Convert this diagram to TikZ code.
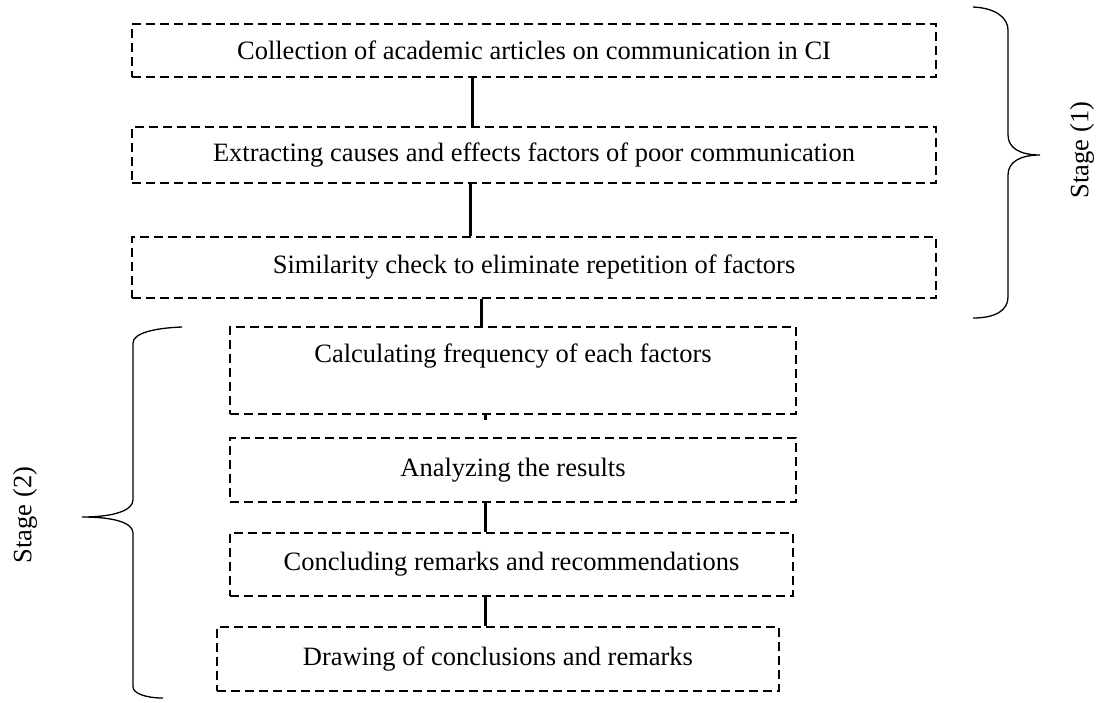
\documentclass[tikz,border=0pt]{standalone}
\usepackage{fontspec}
\setmainfont{Liberation Serif}
\begin{document}
\begin{tikzpicture}[x=1pt,y=-1pt,
  box/.style={draw=black, line width=1.8pt, dash pattern=on 9pt off 5pt, inner sep=0pt,
    font=\fontsize{26.5}{30}\selectfont, anchor=center},
  conn/.style={draw=black, line width=3pt},
  brace/.style={draw=black, line width=1.3pt},
  stagetxt/.style={font=\fontsize{26.5}{30}\selectfont, rotate=90}]
\useasboundingbox (0,0) rectangle (1099,702);
\node[box, minimum width=804pt, minimum height=53pt] (b1) at (534,50.5) {Collection of academic articles on communication in CI};
\node[box, minimum width=804pt, minimum height=56pt] (b2) at (534,155) {Extracting causes and effects factors of poor communication};
\node[box, minimum width=804pt, minimum height=61pt] (b3) at (534,267.5) {Similarity check to eliminate repetition of factors};
\node[box, minimum width=566pt, minimum height=87pt, text height=14pt, text depth=31pt] (b4) at (513,370.5) {Calculating frequency of each factors};
\node[box, minimum width=566pt, minimum height=64pt] (b5) at (513,470) {Analyzing the results};
\node[box, minimum width=563pt, minimum height=63pt] (b6) at (511.5,564.5) {Concluding remarks and recommendations};
\node[box, minimum width=562pt, minimum height=64pt] (b7) at (498,659) {Drawing of conclusions and remarks};

\draw[conn] ([xshift=-62pt]b1.south) -- ([xshift=-62pt]b2.north);
\draw[conn] ([xshift=-64pt]b2.south) -- ([xshift=-64pt]b3.north);
\draw[conn] ([xshift=-53pt]b3.south) -- ([xshift=-32pt]b4.north);
\draw[conn] ([xshift=-28pt]b4.south) -- ([xshift=-28pt,yshift=-5pt]b4.south);
\draw[conn] ([xshift=-28pt]b5.south) -- ([xshift=-26.5pt]b6.north);
\draw[conn] ([xshift=-26.5pt]b6.south) -- ([xshift=-13pt]b7.north);

\draw[brace] (973,7) .. controls (996,8) and (1008,18) .. (1008,30) -- (1008,135)
  .. controls (1008,148) and (1020,155) .. (1040,155)
  .. controls (1020,155) and (1008,162) .. (1008,175) -- (1008,297)
  .. controls (1008,310) and (996,318) .. (973,318);
\draw[brace] (182,327) .. controls (155,328) and (133,333) .. (133,343) -- (133,500)
  .. controls (133,510) and (115,517) .. (82,517)
  .. controls (115,517) and (133,523) .. (133,533) -- (133,687)
  .. controls (133,693) and (145,698) .. (163,698);

\node[stagetxt] (s1) at (1082,150) {Stage (1)};
\node[stagetxt] (s2) at (25,515) {Stage (2)};
\end{tikzpicture}
\end{document}
